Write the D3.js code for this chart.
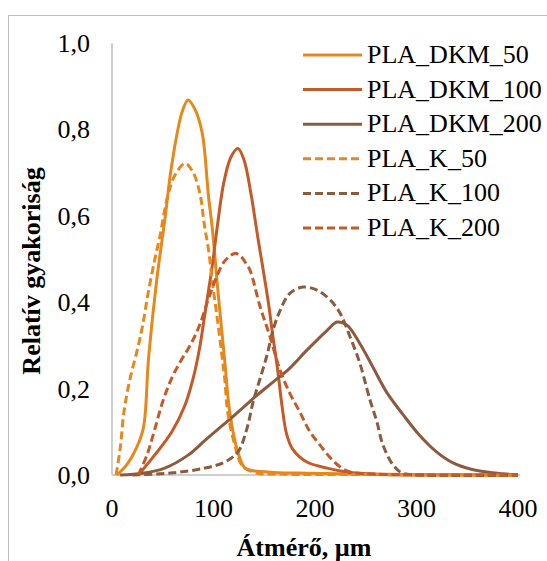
<!DOCTYPE html>
<html>
<head>
<meta charset="utf-8">
<script src="https://cdn.jsdelivr.net/npm/d3@7"></script>
<style>
  text { font-family: "Times New Roman", "Liberation Serif", serif !important; }
</style>
</head>
<body style="margin:0">
<svg id="t" width="547" height="561" font-family="Times New Roman"></svg>
<script>
// Particle size distributions (diameter in µm vs. relative frequency)
const seriesNames = ["PLA_DKM_50", "PLA_DKM_100", "PLA_DKM_200", "PLA_K_50", "PLA_K_100", "PLA_K_200"];
const seriesColors = ["#E8871A", "#C55A28", "#8C5A3C", "#E8871A", "#8C5A3C", "#C55A28"];
const seriesDashed = [false, false, false, true, true, true];

const dkm50X = [5, 15, 24, 31, 36, 44, 52, 59, 69, 75, 82, 89, 95, 99, 104, 111, 116, 124, 131, 139, 160, 192, 250, 300, 400];
const dkm50Y = [0, 0.025, 0.062, 0.11, 0.27, 0.45, 0.59, 0.72, 0.84, 0.868, 0.845, 0.79, 0.647, 0.567, 0.435, 0.266, 0.146, 0.053, 0.016, 0.01, 0.006, 0.004, 0.002, 0.001, 0];

const dkm100X = [26, 42, 59, 72, 80, 86, 92, 98.5, 104, 110, 117, 124, 130, 137, 143, 149, 154, 158.6, 163.5, 167.5, 172, 178, 192, 212, 231.5, 260, 400];
const dkm100Y = [0, 0.046, 0.10, 0.162, 0.224, 0.29, 0.38, 0.48, 0.58, 0.675, 0.735, 0.756, 0.73, 0.65, 0.56, 0.474, 0.40, 0.32, 0.238, 0.16, 0.095, 0.06, 0.03, 0.016, 0.007, 0.002, 0];

const dkm200X = [8, 30, 52, 75, 91.6, 104, 118, 131, 143, 158.6, 175, 192, 212, 221.7, 231.5, 244, 257, 271, 287, 303, 320, 336, 353, 369, 385, 400];
const dkm200Y = [0, 0.004, 0.016, 0.046, 0.08, 0.105, 0.133, 0.16, 0.185, 0.215, 0.247, 0.289, 0.335, 0.354, 0.347, 0.305, 0.25, 0.19, 0.139, 0.092, 0.053, 0.028, 0.014, 0.007, 0.003, 0];

const k50X = [4, 8, 12, 18, 26, 30.5, 35.5, 42, 47, 55, 62, 72, 80, 87, 90.6, 95.6, 99.5, 104, 108, 111, 114, 121, 128, 140, 170, 250, 400];
const k50Y = [0, 0.06, 0.15, 0.225, 0.30, 0.35, 0.42, 0.497, 0.55, 0.647, 0.694, 0.721, 0.70, 0.647, 0.585, 0.513, 0.435, 0.358, 0.282, 0.224, 0.146, 0.069, 0.023, 0.006, 0.002, 0.001, 0];

const k100X = [20, 60, 91.6, 111, 124, 133, 139, 146, 153, 158.6, 165.5, 175, 188, 202, 215, 224.6, 234.5, 244, 254, 261, 267, 277, 285.7, 300, 400];
const k100Y = [0, 0.005, 0.016, 0.03, 0.053, 0.108, 0.169, 0.224, 0.28, 0.335, 0.38, 0.42, 0.435, 0.428, 0.405, 0.375, 0.32, 0.26, 0.175, 0.123, 0.069, 0.023, 0.005, 0, 0];

const k200X = [26, 35, 42, 50, 59, 68, 77, 86, 94.6, 103, 111, 121, 127, 132, 136, 146, 155.7, 165.5, 175, 185, 195, 205, 215, 224.6, 234.5, 260, 400];
const k200Y = [0, 0.05, 0.105, 0.17, 0.225, 0.265, 0.30, 0.345, 0.405, 0.458, 0.495, 0.513, 0.506, 0.49, 0.474, 0.389, 0.32, 0.243, 0.19, 0.146, 0.10, 0.069, 0.04, 0.019, 0.007, 0.002, 0];

const xTicks = [0, 100, 200, 300, 400];
const yTicks = [0, 0.2, 0.4, 0.6, 0.8, 1.0];

const seriesX = [dkm50X, dkm100X, dkm200X, k50X, k100X, k200X];
const seriesY = [dkm50Y, dkm100Y, dkm200Y, k50Y, k100Y, k200Y];

const series = seriesNames.map((name, i) => ({
  name,
  color: seriesColors[i],
  dashed: seriesDashed[i],
  points: seriesX[i].map((x, j) => ({ x, y: seriesY[i][j] }))
}));

const FONT = "Times New Roman";
const svg = d3.select("#t");
const plot = { left: 112, right: 518, top: 43, bottom: 475 };

// chart frame
svg.append("rect")
  .attr("x", 8.5).attr("y", 15.5)
  .attr("width", 600).attr("height", 600)
  .attr("fill", "none").attr("stroke", "#bfbfbf").attr("stroke-width", 1);

const x = d3.scaleLinear().domain([0, 400]).range([plot.left, plot.right]);
const y = d3.scaleLinear().domain([0, 1]).range([plot.bottom, plot.top]);

const fmt = d => d3.format(".1f")(d).replace(".", ",");

// axis lines
svg.append("line")
  .attr("x1", plot.left).attr("x2", plot.left)
  .attr("y1", y(1)).attr("y2", y(0))
  .attr("stroke", "#bfbfbf").attr("stroke-width", 1.5);
svg.append("line")
  .attr("x1", plot.left).attr("x2", x(400) + 2)
  .attr("y1", y(0)).attr("y2", y(0))
  .attr("stroke", "#bfbfbf").attr("stroke-width", 1.5);

// tick labels
yTicks.forEach(v => {
  svg.append("text")
    .attr("x", plot.left - 22).attr("y", y(v) + 9)
    .attr("text-anchor", "end")
    .attr("font-family", FONT).attr("font-size", 26).attr("fill", "#000")
    .text(fmt(v));
});
xTicks.forEach(v => {
  svg.append("text")
    .attr("x", x(v)).attr("y", plot.bottom + 42)
    .attr("text-anchor", "middle")
    .attr("font-family", FONT).attr("font-size", 26).attr("fill", "#000")
    .text(d3.format("d")(v));
});

// curves
const line = d3.line()
  .x(d => x(d.x))
  .y(d => y(d.y))
  .curve(d3.curveCatmullRom.alpha(0.5));

series.forEach(s => {
  svg.append("path")
    .attr("d", line(s.points))
    .attr("fill", "none")
    .attr("stroke", s.color)
    .attr("stroke-width", 3)
    .attr("stroke-dasharray", s.dashed ? "8,4" : null)
    .attr("stroke-linejoin", "round");
});

// legend
const legendRow = 34.6;
series.forEach((s, i) => {
  const cy = 55 + i * legendRow;
  svg.append("line")
    .attr("x1", 303).attr("x2", 362)
    .attr("y1", cy).attr("y2", cy)
    .attr("stroke", s.color).attr("stroke-width", 3)
    .attr("stroke-dasharray", s.dashed ? "8,4" : null);
  svg.append("text")
    .attr("x", 367).attr("y", cy + 8)
    .attr("font-family", FONT).attr("font-size", 26)
    .attr("fill", "#000")
    .text(s.name);
});

// axis titles
svg.append("text")
  .attr("x", 304).attr("y", 556)
  .attr("text-anchor", "middle")
  .attr("font-family", FONT).attr("font-size", 26).attr("font-weight", "bold")
  .text("Átmérő, µm");

svg.append("text")
  .attr("transform", "translate(40,271) rotate(-90)")
  .attr("text-anchor", "middle")
  .attr("font-family", FONT).attr("font-size", 26).attr("font-weight", "bold")
  .text("Relatív gyakoriság");
</script>
</body>
</html>
